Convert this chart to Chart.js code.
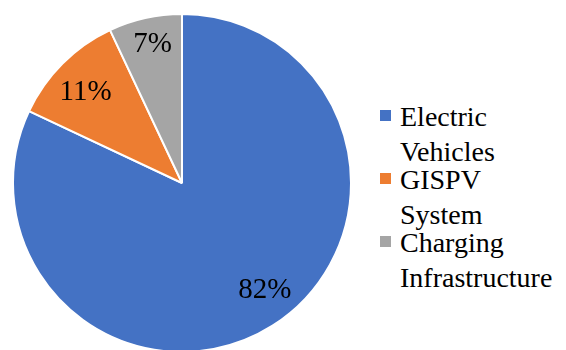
<!DOCTYPE html>
<html>
<head>
<meta charset="utf-8">
<script src="https://cdn.jsdelivr.net/npm/chart.js@4.4.1/dist/chart.umd.min.js"></script>
<style>
  html, body { margin: 0; padding: 0; background: #ffffff; overflow: hidden; }
  body { width: 566px; height: 350px; position: relative; font-family: 'Liberation Serif', 'Times New Roman', serif; }
  #pieBox { position: absolute; left: 0; top: 0; width: 364px; height: 366px; }
  #legend { position: absolute; left: 380px; top: 99px; font-family: 'Liberation Serif', 'Times New Roman', serif; font-size: 28px; color: #000; }
  .item { position: relative; padding-left: 20px; line-height: 35px; margin-bottom: -7px; }
  .swatch { position: absolute; left: 0; top: 11px; width: 11px; height: 11px; }
</style>
</head>
<body>
<div id="pieBox"><canvas id="pie" width="364" height="366"></canvas></div>
<div id="legend"></div>
<script>
// Share of each component (percent)
const categories = ["Electric Vehicles", "GISPV System", "Charging Infrastructure"];
const legendLines = [["Electric", "Vehicles"], ["GISPV", "System"], ["Charging", "Infrastructure"]];
const shares = [82, 11, 7];
const sliceColors = ["#4472C4", "#ED7D31", "#A5A5A5"];

// Legend beside the pie, two lines per entry
const legend = document.getElementById("legend");
categories.forEach((name, i) => {
  const item = document.createElement("div");
  item.className = "item";
  const sw = document.createElement("span");
  sw.className = "swatch";
  sw.style.background = sliceColors[i];
  item.appendChild(sw);
  legendLines[i].forEach(line => {
    const d = document.createElement("div");
    d.textContent = line;
    item.appendChild(d);
  });
  legend.appendChild(item);
});

// Writes each slice's percentage inside it
const sliceLabels = {
  id: "sliceLabels",
  afterDatasetsDraw(chart, args, opts) {
    const ctx = chart.ctx;
    const meta = chart.getDatasetMeta(0);
    const values = chart.data.datasets[0].data;
    ctx.save();
    ctx.font = opts.size + "px " + opts.family;
    ctx.fillStyle = opts.color;
    ctx.textAlign = "center";
    ctx.textBaseline = "alphabetic";
    meta.data.forEach((arc, i) => {
      const p = opts.placement[i];
      const a = arc.startAngle + (arc.endAngle - arc.startAngle) * p.along;
      const r = arc.outerRadius * p.out;
      const x = arc.x + Math.cos(a) * r;
      const y = arc.y + Math.sin(a) * r + opts.size * 0.34;
      ctx.fillText(values[i] + "%", x, y);
    });
    ctx.restore();
  }
};

Chart.defaults.font.family = "'Liberation Serif', 'Times New Roman', serif";

const chart = new Chart(document.getElementById("pie"), {
  type: "pie",
  data: {
    labels: categories,
    datasets: [{
      data: shares,
      backgroundColor: sliceColors,
      borderColor: "#ffffff",
      borderWidth: 2,
      radius: 169
    }]
  },
  options: {
    responsive: false,
    animation: false,
    devicePixelRatio: 1,
    layout: { padding: 0 },
    plugins: {
      legend: { display: false },
      tooltip: { enabled: false },
      sliceLabels: {
        size: 29,
        family: "'Liberation Serif', 'Times New Roman', serif",
        color: "#000000",
        placement: [
          { along: 0.48, out: 0.79 },
          { along: 0.47, out: 0.79 },
          { along: 0.53, out: 0.85 }
        ]
      }
    }
  },
  plugins: [sliceLabels]
});
</script>
</body>
</html>
